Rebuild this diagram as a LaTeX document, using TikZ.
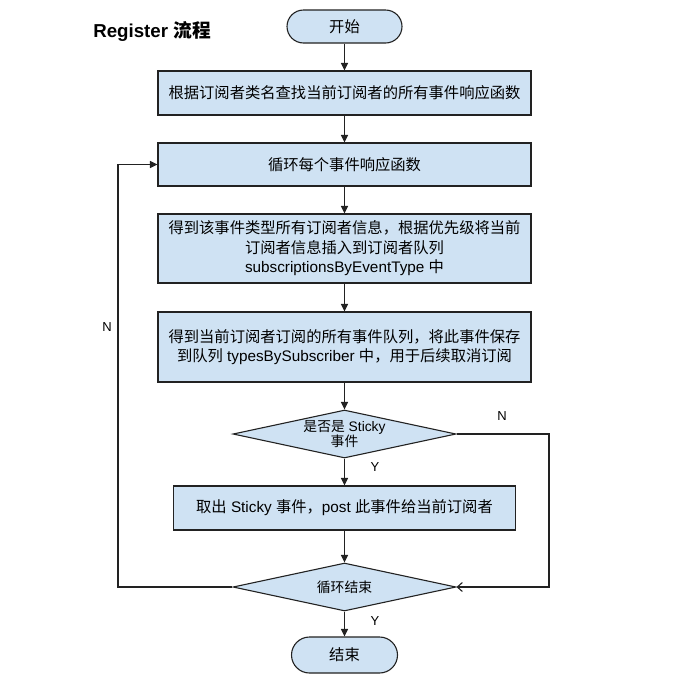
\documentclass[tikz,border=0pt]{standalone}
\usepackage{fontspec}
\setmainfont{Liberation Sans}
\newfontfamily\cjk{Noto Sans CJK SC}
\newcommand\zh[1]{{\cjk #1}}
\usetikzlibrary{shapes.geometric,arrows.meta}
\definecolor{boxblue}{HTML}{CFE2F3}
\definecolor{lineclr}{HTML}{222222}
\tikzset{
  base/.style={draw=lineclr, line width=1.1pt, fill=boxblue, inner sep=0pt, align=center,
    font=\fontsize{15.3}{19.5}\selectfont},
  procbox/.style={base, rectangle},
  termbox/.style={base, rectangle},
  decbox/.style={base, diamond, shape aspect=4.65, minimum width=223pt, minimum height=48pt,
    font=\fontsize{13.8}{15}\selectfont},
  conn/.style={draw=lineclr, line width=1.1pt, -{Triangle[length=7.5pt,width=7pt]}},
  openconn/.style={draw=lineclr, line width=1.1pt, -{Straight Barb[length=5pt,width=9pt]}},
  lbl/.style={font=\fontsize{13}{15}\selectfont, inner sep=0pt},
}
\begin{document}
\begin{tikzpicture}[x=1pt,y=-1pt]
\useasboundingbox (0,0) rectangle (700,686);
\node[font=\fontsize{18.7}{22}\selectfont\bfseries, inner sep=0pt] (title) at (152,31) {Register \zh{流程}};

\node[termbox, rounded corners=16.5pt, minimum width=115pt, minimum height=33pt] (start) at (344.5,26.5) {\zh{开始}};
\node[procbox, minimum width=373pt, minimum height=44pt] (b1) at (344.5,93) {\zh{根据订阅者类名查找当前订阅者的所有事件响应函数}};
\node[procbox, minimum width=373pt, minimum height=43pt] (b2) at (344.5,164.5) {\zh{循环每个事件响应函数}};
\node[procbox, minimum width=373pt, minimum height=69pt] (b3) at (344.5,248.5) {\zh{得到该事件类型所有订阅者信息，根据优先级将当前}\\\zh{订阅者信息插入到订阅者队列}\\subscriptionsByEventType \zh{中}};
\node[procbox, minimum width=373pt, minimum height=70pt] (b4) at (344.5,347) {\zh{得到当前订阅者订阅的所有事件队列，将此事件保存}\\\zh{到队列} typesBySubscriber \zh{中，用于后续取消订阅}};
\node[decbox] (d1) at (344.5,434) {\zh{是否是} Sticky\\\zh{事件}};
\node[procbox, minimum width=342pt, minimum height=44pt] (b5) at (344.5,508) {\zh{取出} Sticky \zh{事件，}post \zh{此事件给当前订阅者}};
\node[decbox] (d2) at (344.5,587) {\zh{循环结束}};
\node[termbox, rounded corners=18pt, minimum width=106pt, minimum height=36pt] (end) at (344.5,655) {\zh{结束}};

\coordinate (rx) at (549,0);
\coordinate (lx) at (118,0);

\draw[conn] (start) -- (b1);
\draw[conn] (b1) -- (b2);
\draw[conn] (b2) -- (b3);
\draw[conn] (b3) -- (b4);
\draw[conn] (b4) -- (d1);
\draw[conn] (d1) -- (b5);
\draw[conn] (b5) -- (d2);
\draw[conn] (d2) -- (end);
\draw[openconn] (d1.east) -- (d1.east -| rx) -- (d2.east -| rx) -- (d2.east);
\draw[conn] (d2.west) -- (d2.west -| lx) -- (b2.west -| lx) -- (b2.west);

\node[lbl] (ly1) at (375,467) {Y};
\node[lbl] (ly2) at (375,621) {Y};
\node[lbl] (ln1) at (502,416) {N};
\node[lbl] (ln2) at (107,327) {N};
\end{tikzpicture}
\end{document}
